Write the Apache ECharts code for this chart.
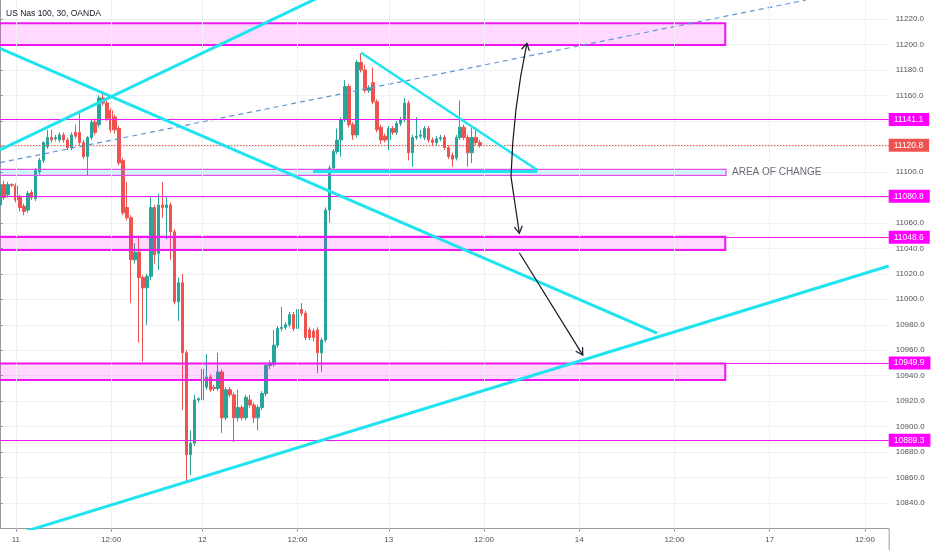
<!DOCTYPE html>
<html><head><meta charset="utf-8">
<script src="https://cdn.jsdelivr.net/npm/echarts@6/dist/echarts.min.js"></script>
<style>html,body{margin:0;padding:0;background:#fff}#c{width:932px;height:550px}</style>
</head><body><div id="c"></div>
<script>
// ---- time axis: bar index of each 30-min bar (TradingView index scale) ----
const barCount = 224;
const tickBars = [4, 28, 51, 75, 98, 122, 146, 170, 194, 218];
const tickLabels = ['11', '12:00', '12', '12:00', '13', '12:00', '14', '12:00', '17', '12:00'];

// ---- candles: open / close / low / high (bar index = position in array) ----
const open = [11074,11090,11082,11090,11089,11080,11073,11070,11084,11079,11100,11109,11120,11127,11126,11125,11129,11125,11119,11131,11131,11123,11112,11127,11139,11137,11158,11154,11148,11143,11134,11109,11072,11064,11031,11037,11017,11009,11018,11072,11036,11074,11072,11074,11053,10998,11013,10958,10878,10887,10921,10921,10931,10939,10931,10930,10943,10907,10929,10925,10907,10915,10907,10921,10917,10907,10915,10926,10948,10949,10964,10977,10978,10980,10988,10977,10992,10989,10976,10975,10976,10958,10968,11070,11103,11116,11125,11141,11167,11137,11129,11186,11180,11164,11170,11155,11135,11128,11125,11134,11131,11138,11141,11154,11115,11127,11128,11127,11134,11125,11123,11126,11127,11119,11113,11111,11127,11135,11127,11115,11127,11123];
const close = [11090,11080,11090,11089.5,11078,11072,11069,11083,11080,11101,11109,11123,11127,11125,11127,11129,11125,11119,11129,11128,11123,11112,11127,11139,11131,11158,11154,11142,11133,11133,11107,11068,11064,11031,11037,11017,11009,11018,11072,11035,11074,11072,11074,11053,10998,11013,10958,10878,10887,10921,10922,10945,10939,10929,10930,10943,10907,10929,10925,10907,10915,10907,10923,10917,10907,10915,10926,10948,10950,10964,10977,10978,10980,10988,10977,10992,10989,10970,10970,10970,10958,10968,11070,11103,11116,11125,11141,11167,11137,11129,11186,11180,11164,11166,11155,11133,11125,11125,11134,11131,11138,11141,11154,11115,11127,11128,11129,11134,11125,11123,11126,11127,11119,11112,11110,11127,11135,11127,11115,11127,11123,11120.8];
const low = [11060,11078,11080,11088,11076,11069,11066,11068,11078,11077,11098,11107,11118,11123,11124,11123,11123,11117,11117,11126,11121,11110,11097,11125,11129,11135,11152,11140,11131,11130,11105,11066,11062,10997,11028,10966,10951,10980,11015,11028,11023,11064,11047,11031,10996,10983,10913,10856,10862,10885,10919,10919,10929,10927,10928,10928,10895,10905,10923,10888,10904,10905,10905,10915,10903,10897,10913,10924,10945,10947,10962,10975,10976,10978,10975,10975,10987,10968,10968,10967,10942,10943,10966,11060,11101,11114,11112,11139,11135,11125,11127,11178,11162,11162,11153,11131,11122,11123,11117,11129,11129,11136,11139,11109,11104,11125,11126,11125,11123,11121,11121,11124,11117,11110,11104,11109,11125,11125,11104,11107,11121,11119];
const high = [11094,11093,11092,11091,11091,11082,11075,11085,11086,11103,11111,11124,11133,11133,11129,11131,11131,11127,11131,11137,11146,11125,11128,11141,11142,11160,11163,11156,11150,11145,11136,11111,11092,11066,11044,11050,11019,11020,11080,11074,11083,11092,11080,11076,11055,11017,11020,10960,10897,10925,10923,10955,10957,10941,10933,10958,10945,10931,10931,10927,10929,10917,10925,10925,10919,10917,10928,10950,10952,10976,10979,10994,10982,10990,10990,10999,10997,10991,10978,10977,10978,10970,11072,11105,11118,11134,11143,11172,11169,11139,11188,11193,11184,11168,11182,11157,11137,11130,11136,11136,11140,11143,11158,11156,11129,11143,11133,11136,11136,11127,11128,11129,11129,11121,11115,11129,11156,11137,11129,11135,11135,11125];

// ---- horizontal levels ----
const levels = [11141.1, 11080.8, 11048.6, 10949.9, 10889.3];
const lastPrice = 11120.8;
const countdownText = '19:31';
const countdownLevel = 11109.3;
const priceTicks = [10840, 10860, 10880, 10900, 10920, 10940, 10960, 10980, 11000, 11020, 11040, 11060, 11080, 11100, 11120, 11140, 11160, 11180, 11200, 11220];

// ---- drawn zones: [barStart, barEnd, top, bottom] ----
const zones = [
  [-3, 182.8, 11216.6, 11199.6],
  [-3, 183.0, 11102.0, 11097.3],
  [-3, 182.8, 11049.1, 11038.7],
  [-3, 182.8, 10949.6, 10936.6]
];
const zoneLabel = 'AREA OF CHANGE';
const zoneLabelPoint = [184.5, 11099.9];

// ---- trend lines: [[bar, price], [bar, price]] ----
const trendUpper = [[0, 11117.2], [83.2, 11241.2]];
const trendFalling = [[0, 11197.0], [165.6, 10973.5]];
const trendLower = [[4.5, 10816.0], [224, 11026.1]];
const triangleTop = [[91.0, 11193.5], [135.4, 11101.4]];
const triangleBase = [[78.9, 11100.3], [135.4, 11100.3]];
const dashedChannel = [[0, 11107.2], [203.2, 11234.9]];

// ---- arrows: [bar1, price1, bar2, price2] ----
const arrows = [
  [128.8, 11096.2, 132.8, 11200.9],
  [128.8, 11096.2, 130.9, 11051.8],
  [130.9, 11036.5, 146.9, 10956.2]
];
const arrowBend = [3, 0, 0];

const candleData = open.map((o, i) => [i, o, close[i], low[i], high[i]]);

const MAG = '#f014f0';
const CYAN = '#1fe3ef';
const RED = '#ef5350';
const AXIS = '#9598a1';
const FONT = 'Liberation Sans';
const GRID = '#eef0f4';
const zoneStyles = [
  {fill: 'rgba(255,0,255,0.15)', stroke: MAG, lineWidth: 2},
  {fill: 'rgba(0,220,245,0.16)', stroke: '#e44ee4', lineWidth: 1.2},
  {fill: 'rgba(255,0,255,0.15)', stroke: MAG, lineWidth: 2},
  {fill: 'rgba(255,0,255,0.15)', stroke: MAG, lineWidth: 2}
];

function trend(data, z, style) {
  return {type: 'line', data: data, symbol: 'none', silent: true, z: z, lineStyle: style, animation: false};
}

const priceLabel = (bg) => ({
  show: true, position: 'end', distance: 0, color: '#fff', fontSize: 8.5, fontFamily: FONT,
  backgroundColor: bg, padding: [2, 6, 2, 5], lineHeight: 9
});

const levelMarks = levels.map(v => ({
  yAxis: v,
  lineStyle: {color: MAG, width: 1, type: 'solid', opacity: 1},
  label: Object.assign(priceLabel('#ff00ff'), {formatter: v.toFixed(1)})
}));
const priceMarks = [{
  yAxis: lastPrice,
  lineStyle: {color: RED, width: 1, type: [1.5, 1.5], opacity: 1},
  label: Object.assign(priceLabel(RED), {formatter: lastPrice.toFixed(1)})
}, {
  yAxis: countdownLevel,
  lineStyle: {opacity: 0},
  label: Object.assign(priceLabel(RED), {formatter: countdownText, distance: 12, padding: [2, 4, 2, 4]})
}];

const chart = echarts.init(document.getElementById('c'));
chart.setOption({
  animation: false,
  title: {text: 'US Nas 100, 30, OANDA', left: 6, top: 9, padding: 0,
    textStyle: {fontSize: 8.5, fontWeight: 'normal', color: '#131722', fontFamily: FONT}},
  grid: {left: 0, right: 43.3, top: -6.5, bottom: 21.4, containLabel: false, outerBoundsMode: 'none'},
  xAxis: {
    type: 'value', min: 0, max: barCount,
    axisLine: {show: true, onZero: false, lineStyle: {color: AXIS}},
    axisTick: {show: true, length: 3, customValues: tickBars, lineStyle: {color: AXIS}},
    axisLabel: {customValues: tickBars, fontSize: 8, color: '#50535e', fontFamily: FONT, margin: 7,
      showMinLabel: true, showMaxLabel: true,
      formatter: (v) => { const k = tickBars.indexOf(Math.round(v)); return k >= 0 ? tickLabels[k] : ''; }},
    splitLine: {show: false}
  },
  yAxis: {
    type: 'value', position: 'right', min: 10820, max: 11240, interval: 20,
    axisLine: {show: true, lineStyle: {color: AXIS}},
    axisTick: {show: true, length: 3, lineStyle: {color: AXIS}},
    axisLabel: {fontSize: 8, color: '#50535e', fontFamily: FONT, margin: 7, showMinLabel: false, showMaxLabel: false,
      formatter: (v) => v.toFixed(1)},
    splitLine: {show: true, lineStyle: {color: GRID, width: 1}}
  },
  series: [
    {
      type: 'line', data: [[0, priceTicks[0]]], symbol: 'none', silent: true, z: 1,
      markLine: {silent: true, symbol: ['none', 'none'], animation: false, label: {show: false},
        lineStyle: {color: GRID, width: 1, type: 'solid'},
        data: tickBars.map(b => ({xAxis: b}))}
    },
    {
      type: 'candlestick', data: candleData, barWidth: 3, z: 2,
      encode: {x: 0, y: [1, 2, 3, 4]},
      itemStyle: {color: '#26a69a', color0: RED, borderColor: '#26a69a', borderColor0: RED, borderWidth: 1}
    },
    {
      type: 'line', data: [[0, priceTicks[0]]], symbol: 'none', silent: true, z: 10,
      lineStyle: {color: MAG},
      markLine: {silent: true, symbol: ['none', 'none'], animation: false,
        lineStyle: {color: MAG, width: 1, type: 'solid'}, data: levelMarks}
    },
    {
      type: 'line', data: [[0, priceTicks[0]]], symbol: 'none', silent: true, z: 10,
      lineStyle: {color: RED},
      markLine: {silent: true, symbol: ['none', 'none'], animation: false,
        lineStyle: {color: RED, width: 1}, data: priceMarks}
    },
    {
      type: 'custom', data: zones, z: 3, silent: true,
      encode: {x: [0, 1], y: [2, 3]},
      renderItem: (params, api) => {
        const a = api.coord([api.value(0), api.value(2)]);
        const b = api.coord([api.value(1), api.value(3)]);
        return {type: 'rect', shape: {x: a[0], y: a[1], width: b[0] - a[0], height: b[1] - a[1]},
          style: zoneStyles[params.dataIndex]};
      }
    },
    trend(dashedChannel, 4, {color: '#5b97d8', width: 1.2, type: [5, 4]}),
    trend(trendUpper, 5, {color: CYAN, width: 3}),
    trend(trendFalling, 5, {color: CYAN, width: 3}),
    trend(trendLower, 5, {color: CYAN, width: 3}),
    trend(triangleTop, 5, {color: CYAN, width: 2.5}),
    trend(triangleBase, 5, {color: CYAN, width: 3}),
    {
      type: 'custom', data: arrows, z: 6, silent: true,
      encode: {x: [0, 2], y: [1, 3]},
      renderItem: (params, api) => {
        const a = api.coord([api.value(0), api.value(1)]);
        const b = api.coord([api.value(2), api.value(3)]);
        const dx = b[0] - a[0], dy = b[1] - a[1], len = Math.hypot(dx, dy);
        const bend = arrowBend[params.dataIndex];
        const nx = dy / len, ny = -dx / len;
        const cp = [(a[0] + b[0]) / 2 + nx * bend * 2, (a[1] + b[1]) / 2 + ny * bend * 2];
        const ang = Math.atan2(b[1] - cp[1], b[0] - cp[0]);
        const L = 8, w = Math.PI / 6;
        const h1 = [b[0] - L * Math.cos(ang - w), b[1] - L * Math.sin(ang - w)];
        const h2 = [b[0] - L * Math.cos(ang + w), b[1] - L * Math.sin(ang + w)];
        const st = {stroke: '#131722', lineWidth: 1.2, fill: null};
        return {type: 'group', children: [
          {type: 'bezierCurve', shape: {x1: a[0], y1: a[1], x2: b[0], y2: b[1], cpx1: cp[0], cpy1: cp[1]}, style: st},
          {type: 'polyline', shape: {points: [h1, b, h2]}, style: st}
        ]};
      }
    },
    {
      type: 'scatter', data: [zoneLabelPoint], symbolSize: 0, z: 6, silent: true,
      label: {show: true, position: 'right', distance: 0, formatter: zoneLabel, fontSize: 10,
        color: '#434651', fontFamily: FONT}
    }
  ]
});

// extend the price-axis line down through the time-axis strip, as in the reference
const axisX = chart.convertToPixel({xAxisIndex: 0}, barCount);
const axisBottom = chart.convertToPixel({yAxisIndex: 0}, 10820);
chart.setOption({graphic: [{type: 'line', silent: true,
  shape: {x1: axisX + 0.5, y1: axisBottom, x2: axisX + 0.5, y2: 550},
  style: {stroke: AXIS, lineWidth: 1}}]});
</script></body></html>
